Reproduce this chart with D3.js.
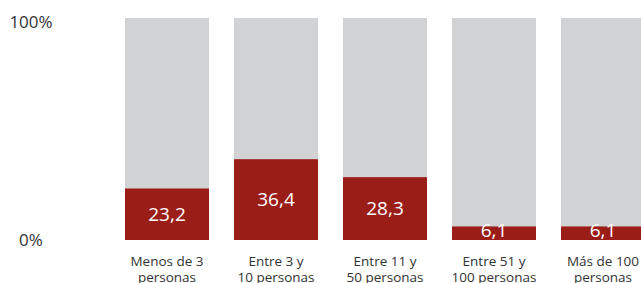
<!DOCTYPE html>
<html>
<head>
<meta charset="utf-8">
<script src="https://d3js.org/d3.v7.min.js"></script>
<style>
body { margin: 0; background: #fff; }
svg { display: block; font-family: "Open Sans", sans-serif; }
.cat { font-size: 13.5px; fill: #333; }
.val { font-size: 19px; fill: #fff; }
.ylab { font-size: 17px; fill: #333; }
</style>
</head>
<body>
<script>
// data
var categories = [
  ["Menos de 3", "personas"],
  ["Entre 3 y", "10 personas"],
  ["Entre 11 y", "50 personas"],
  ["Entre 51 y", "100 personas"],
  ["Más de 100", "personas"]
];
var values = [23.2, 36.4, 28.3, 6.1, 6.1];
var yTicks = [0, 100];

var W = 641, H = 283;
var svg = d3.select("body").append("svg")
  .attr("width", W).attr("height", H);

var x = d3.scaleBand()
  .domain(d3.range(values.length))
  .range([125, 645])
  .paddingInner(25 / 109)
  .paddingOuter(0);

var y = d3.scaleLinear().domain([0, 100]).range([240, 18]);

var fmt = function(v) { return d3.format(".1f")(v).replace(".", ","); };

// grey full bars
svg.selectAll(".bg").data(values).enter().append("rect")
  .attr("x", function(d, i) { return x(i); })
  .attr("y", y(100))
  .attr("width", x.bandwidth())
  .attr("height", y(0) - y(100))
  .attr("fill", "#d1d2d4");

// red value bars
svg.selectAll(".bar").data(values).enter().append("rect")
  .attr("x", function(d, i) { return x(i); })
  .attr("y", function(d) { return y(d); })
  .attr("width", x.bandwidth())
  .attr("height", function(d) { return y(0) - y(d); })
  .attr("fill", "#9b1d17");

svg.selectAll(".val").data(values).enter().append("text")
  .attr("class", "val")
  .attr("x", function(d, i) { return x(i) + x.bandwidth() / 2; })
  .attr("y", function(d) { return Math.min((y(d) + y(0)) / 2, 230); })
  .attr("dy", "0.35em")
  .attr("text-anchor", "middle")
  .text(fmt);

// category labels
var cat = svg.selectAll(".cat").data(categories).enter().append("text")
  .attr("class", "cat")
  .attr("text-anchor", "middle")
  .attr("x", function(d, i) { return x(i) + x.bandwidth() / 2; })
  .attr("y", 266);
cat.selectAll("tspan").data(function(d) { return d; }).enter().append("tspan")
  .attr("x", function() { return d3.select(this.parentNode).attr("x"); })
  .attr("dy", function(d, i) { return i ? 16 : 0; })
  .text(function(d) { return d; });

// y labels
svg.selectAll(".ylab").data(yTicks).enter().append("text")
  .attr("class", "ylab")
  .attr("x", 31)
  .attr("y", function(d) { return y(d) + (d ? 4 : 0); })
  .attr("dy", "0.35em")
  .attr("text-anchor", "middle")
  .text(function(d) { return d + "%"; });
</script>
</body>
</html>
